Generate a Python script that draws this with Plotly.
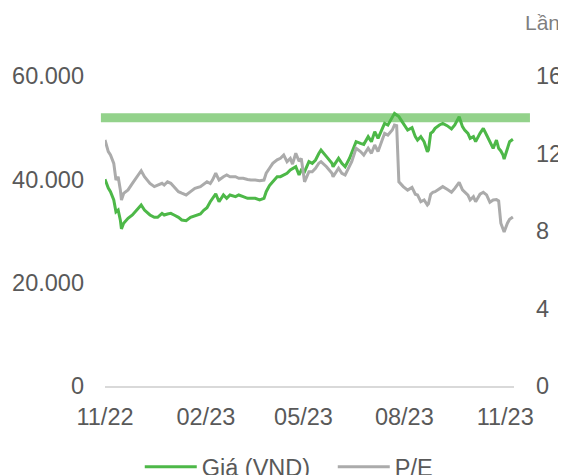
import plotly.graph_objects as go

dates = [
    "2022-11-01", "2022-11-04", "2022-11-06", "2022-11-09", "2022-11-11", "2022-11-13",
    "2022-11-15", "2022-11-16", "2022-11-18", "2022-11-22", "2022-11-26", "2022-11-30",
    "2022-12-04", "2022-12-07", "2022-12-12", "2022-12-16", "2022-12-19", "2022-12-23",
    "2022-12-25", "2022-12-28", "2022-12-31", "2023-01-03", "2023-01-07", "2023-01-10",
    "2023-01-14", "2023-01-18", "2023-01-22", "2023-01-27", "2023-01-30", "2023-02-02",
    "2023-02-05", "2023-02-07", "2023-02-10", "2023-02-13", "2023-02-17", "2023-02-20",
    "2023-02-23", "2023-02-28", "2023-03-03", "2023-03-07", "2023-03-11", "2023-03-14",
    "2023-03-18", "2023-03-22", "2023-03-26", "2023-03-28", "2023-03-31", "2023-04-03",
    "2023-04-07", "2023-04-10", "2023-04-13", "2023-04-16", "2023-04-19", "2023-04-21",
    "2023-04-24", "2023-04-27", "2023-04-29", "2023-05-02", "2023-05-06", "2023-05-09",
    "2023-05-12", "2023-05-15", "2023-05-17", "2023-05-22", "2023-05-27", "2023-05-28",
    "2023-06-02", "2023-06-05", "2023-06-08", "2023-06-12", "2023-06-14", "2023-06-18",
    "2023-06-22", "2023-06-25", "2023-06-29", "2023-07-02", "2023-07-05", "2023-07-08",
    "2023-07-12", "2023-07-14", "2023-07-17", "2023-07-21", "2023-07-23", "2023-07-25",
    "2023-07-27", "2023-07-31", "2023-08-04", "2023-08-08", "2023-08-11", "2023-08-13",
    "2023-08-16", "2023-08-19", "2023-08-22", "2023-08-23", "2023-08-25", "2023-08-27",
    "2023-08-29", "2023-09-02", "2023-09-05", "2023-09-09", "2023-09-13", "2023-09-16",
    "2023-09-20", "2023-09-23", "2023-09-25", "2023-09-28", "2023-09-30", "2023-10-03",
    "2023-10-05", "2023-10-09", "2023-10-12", "2023-10-15", "2023-10-18", "2023-10-21",
    "2023-10-24", "2023-10-26", "2023-10-28", "2023-10-30", "2023-10-31", "2023-11-03",
    "2023-11-05", "2023-11-08",
]

price = [
    40000, 38300, 37600, 36000, 33700, 34060,
    32100, 30400, 31500, 32450, 33100, 34060,
    35030, 34060, 33100, 32640, 32640, 33420,
    33100, 33300, 33420, 33100, 32640, 32130,
    32000, 32640, 33000, 33300, 34000, 34500,
    35670, 36320, 37200, 35670, 36970, 36320,
    36970, 36640, 36970, 36640, 36320, 36320,
    36320, 36000, 36320, 37610, 38800, 39540,
    40510, 40510, 40840, 41160, 41800, 42000,
    42450, 40840, 41800, 41480, 43420, 43100,
    43740, 45000, 45680, 44390, 43100, 42450,
    44070, 43100, 42450, 44070, 45030, 47290,
    46970, 46770, 48260, 47290, 49230, 47930,
    49870, 50840, 50520, 52130, 52770, 52450,
    52130, 50840, 49550, 50000, 48260, 47610,
    48260, 47290, 45350, 45680, 48900, 49230,
    49870, 50520, 50840, 50390, 49740, 50520,
    52130, 50190, 49550, 48900, 47930, 48260,
    47290, 48900, 49870, 48580, 47290, 46000,
    47610, 46000, 45500, 44710, 43930, 46060,
    47290, 47740,
]

pe = [
    12.70, 12.10, 11.92, 11.49, 10.63, 10.80,
    10.12, 9.60, 9.94, 10.12, 10.46, 10.80,
    11.11, 10.80, 10.46, 10.29, 10.35, 10.46,
    10.37, 10.54, 10.46, 10.29, 10.03, 9.95,
    9.86, 10.03, 10.20, 10.29, 10.40, 10.54,
    10.45, 10.63, 10.98, 10.63, 10.80, 10.89,
    10.80, 10.80, 10.72, 10.72, 10.66, 10.63,
    10.63, 10.60, 10.63, 10.98, 11.24, 11.49,
    11.67, 11.75, 11.92, 11.58, 11.75, 11.45,
    12.01, 11.60, 11.75, 10.54, 11.06, 11.06,
    11.24, 11.50, 11.58, 11.32, 10.98, 10.80,
    11.24, 10.98, 10.89, 11.32, 11.58, 12.27,
    12.10, 11.92, 12.27, 12.01, 12.44, 12.10,
    12.78, 13.04, 12.95, 13.21, 13.47, 13.44,
    10.54, 10.29, 10.11, 10.25, 9.90, 9.86,
    9.51, 9.60, 9.34, 9.40, 9.89, 10.00,
    10.03, 10.20, 10.29, 10.15, 10.00, 10.20,
    10.51, 10.12, 10.00, 9.85, 9.60, 9.77,
    9.51, 9.90, 10.00, 9.86, 9.48, 9.60,
    9.62, 9.55, 8.40, 8.05, 7.95, 8.40,
    8.60, 8.72,
]

target_price = 51900

price_ticks = [0, 20000, 40000, 60000]
pe_ticks = [0, 4, 8, 12, 16]
x_tick_dates = ["2022-11-01", "2023-02-01", "2023-05-01", "2023-08-01", "2023-11-01"]
x_tick_labels = ["11/22", "02/23", "05/23", "08/23", "11/23"]
series_names = ["Giá (VND)", "P/E"]
right_axis_unit = "Lần"

GREEN = "#4DB848"
GREY = "#ABABAB"
BAND = "#93D28B"
TEXT = "#595959"
FONT = "Liberation Sans, Arial, sans-serif"
FS = 23.5

fig = go.Figure()
fig.add_trace(go.Scatter(
    x=dates, y=price, name=series_names[0], mode="lines",
    line=dict(color=GREEN, width=3), yaxis="y",
))
fig.add_trace(go.Scatter(
    x=dates, y=pe, name=series_names[1], mode="lines",
    line=dict(color=GREY, width=3), yaxis="y2",
))

fig.add_shape(
    type="line", xref="paper", yref="y",
    x0=-0.01, x1=1.039, y0=target_price, y1=target_price,
    line=dict(color=BAND, width=9), layer="below",
)

fig.add_annotation(
    text=right_axis_unit, xref="paper", yref="paper",
    x=1.118, y=1.174, xanchor="right", yanchor="middle",
    showarrow=False, font=dict(family=FONT, size=21, color="#7F7F7F"),
)

# page body adds an 8px offset, so the figure is 8px smaller on each axis
fig.update_layout(
    width=558, height=467,
    margin=dict(l=97, r=52, t=68, b=89, autoexpand=False),
    paper_bgcolor="white", plot_bgcolor="white",
    separators=",.",
    font=dict(family=FONT, size=FS, color=TEXT),
    showlegend=True,
    legend=dict(
        orientation="h", x=0.085, xanchor="left", y=-0.261, yanchor="middle",
        font=dict(family=FONT, size=FS, color=TEXT),
        itemwidth=52, entrywidth=126, entrywidthmode="pixels",
        bgcolor="rgba(0,0,0,0)",
    ),
    xaxis=dict(
        type="date", range=["2022-11-01", "2023-11-09"],
        tickvals=x_tick_dates, ticktext=x_tick_labels,
        showgrid=False, zeroline=False,
        showline=True, linecolor="#D9D9D9", linewidth=1.5,
        ticks="", ticklabelstandoff=9,
        tickfont=dict(family=FONT, size=FS, color=TEXT),
    ),
    yaxis=dict(
        range=[0, 60000], tickvals=price_ticks, tickformat=",.0f",
        showgrid=False, zeroline=False, showline=False,
        ticks="", ticklabelstandoff=20,
        tickfont=dict(family=FONT, size=FS, color=TEXT),
    ),
    yaxis2=dict(
        range=[0, 16], tickvals=pe_ticks, overlaying="y", side="right",
        showgrid=False, zeroline=False, showline=False,
        ticks="", ticklabelstandoff=21,
        tickfont=dict(family=FONT, size=FS, color=TEXT),
    ),
)

fig.write_html("out.html")
